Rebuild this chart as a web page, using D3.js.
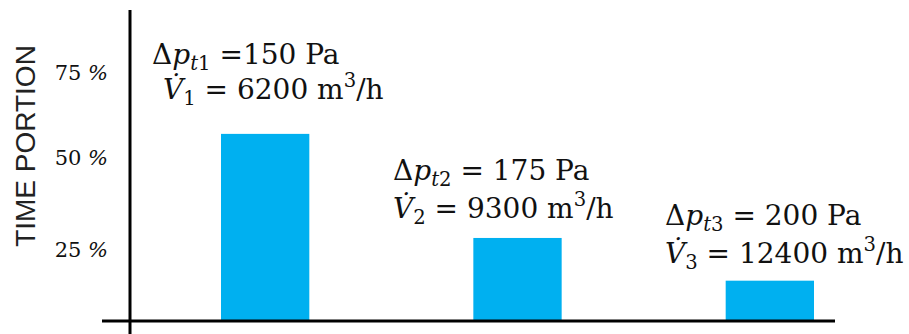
<!DOCTYPE html>
<html><head><meta charset="utf-8">
<script src="https://cdn.jsdelivr.net/npm/d3@7"></script>
<style>body{margin:0;background:#fff}svg{display:block}</style>
</head><body>
<script>
// ---- data ----
const categories = ["1", "2", "3"];
const timePortion = [56.8, 28.0, 14.0];          // % of time
const pressures = [150, 175, 200];               // Pa
const flows = [6200, 9300, 12400];               // m3/h
const tickValues = [25, 50, 75];
const tickLabels = ["25 %", "50 %", "75 %"];
const yTitle = "TIME PORTION";

// ---- layout ----
const W = 909, H = 334;
const svg = d3.select("body").append("svg").attr("width", W).attr("height", H);

const x = d3.scaleBand().domain(categories).range([221, 814]).paddingInner(0.65).paddingOuter(0);
// schematic (non-uniform) axis as in the reference
const y = d3.scaleLinear().domain([0, 25, 50, 75]).range([321, 249, 157, 72]);

const blue = "#00B0F0";

// bars
svg.selectAll("rect.bar").data(categories).join("rect")
  .attr("class", "bar")
  .attr("x", d => x(d))
  .attr("width", x.bandwidth())
  .attr("y", (d, i) => y(timePortion[i]))
  .attr("height", (d, i) => y(0) - y(timePortion[i]))
  .attr("fill", blue);

// axes lines
svg.append("line").attr("x1", 130).attr("x2", 130).attr("y1", 10).attr("y2", H)
  .attr("stroke", "#000").attr("stroke-width", 3);
svg.append("line").attr("x1", 102).attr("x2", 835).attr("y1", y(0)).attr("y2", y(0))
  .attr("stroke", "#000").attr("stroke-width", 3);

// tick labels
const serif = "'DejaVu Serif', 'Liberation Serif', serif";
const tk = svg.selectAll("text.tick").data(tickValues).join("text")
  .attr("class", "tick")
  .attr("x", 108).attr("y", d => y(d) + 8)
  .attr("text-anchor", "end")
  .attr("font-family", serif).attr("font-size", 21).attr("fill", "#111");
tk.each(function(d, i) {
  const parts = tickLabels[i].split(" ");
  const t = d3.select(this);
  t.append("tspan").text(parts[0] + " ");
  t.append("tspan").attr("font-style", "italic").text(parts[1]);
});

// y title
svg.append("text")
  .attr("transform", `translate(35,${146}) rotate(-90)`)
  .attr("text-anchor", "middle")
  .attr("font-family", "'Liberation Sans', Arial, sans-serif")
  .attr("font-size", 28).attr("fill", "#222")
  .text(yTitle);

// annotations
const eqSp = " = ";
const labelPos = [ {x: 152, y1: 64, y2: 99, indent: 11, eq: " ="},
                   {x: 393, y1: 180, y2: 218, indent: 0, eq: eqSp},
                   {x: 665, y1: 225, y2: 263, indent: 0, eq: eqSp} ];
const fs = 28, sub = 0.7;
categories.forEach((c, i) => {
  const p = labelPos[i];
  const t1 = svg.append("text").attr("x", p.x).attr("y", p.y1)
    .attr("font-family", serif).attr("font-size", fs).attr("fill", "#111");
  t1.append("tspan").text("Δ");
  t1.append("tspan").attr("font-style", "italic").text("p");
  t1.append("tspan").attr("font-style", "italic").attr("font-size", fs*sub).attr("dy", 6).text("t");
  t1.append("tspan").attr("font-size", fs*sub).text(c);
  t1.append("tspan").attr("dy", -6).text(`${p.eq}${pressures[i]} Pa`);

  const t2 = svg.append("text").attr("x", p.x + p.indent).attr("y", p.y2)
    .attr("font-family", serif).attr("font-size", fs).attr("fill", "#111");
  t2.append("tspan").attr("font-style", "italic").text("V\u0307");
  t2.append("tspan").attr("font-size", fs*sub).attr("dy", 6).text(c);
  t2.append("tspan").attr("dy", -6).text(`${eqSp}${flows[i]} m`);
  t2.append("tspan").attr("font-size", fs*sub).attr("dy", -12).text("3");
  t2.append("tspan").attr("dy", 12).text("/h");
});
</script>
</body></html>
